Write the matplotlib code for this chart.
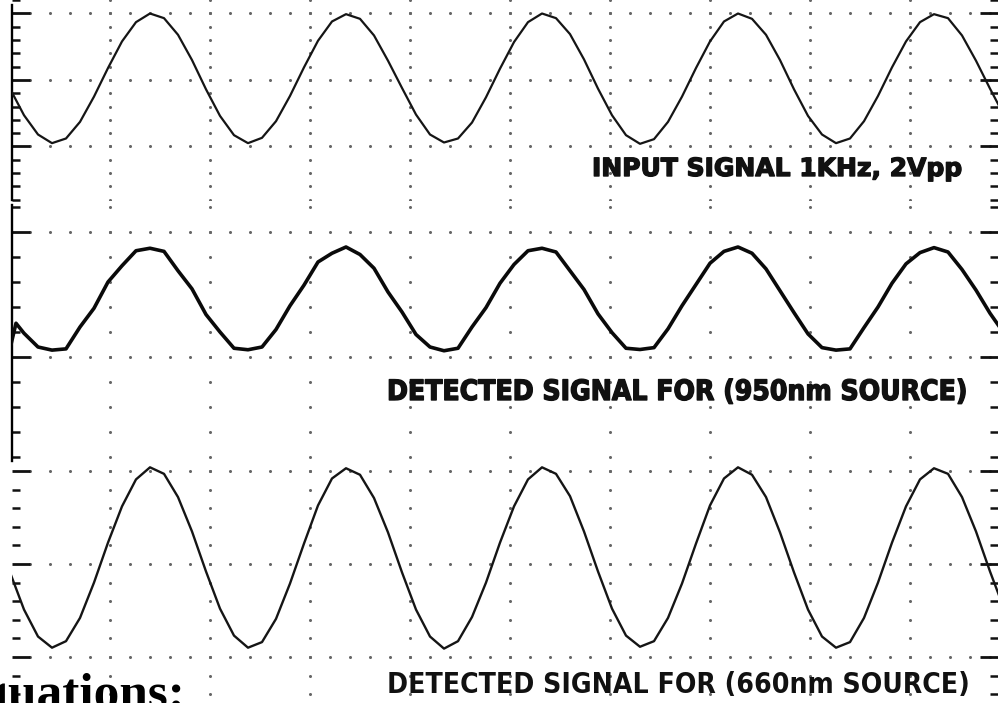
import os
import numpy as np
import matplotlib
matplotlib.use("Agg")
import matplotlib.pyplot as plt
import matplotlib.patheffects as pe
from matplotlib.ticker import MultipleLocator
from matplotlib import font_manager as fm

# --- data (time in ms, 0.5 ms/div) ---
time_ms = [0.00, 0.07, 0.14, 0.21, 0.28, 0.35, 0.42, 0.49, 0.56, 0.63, 0.70, 0.77, 0.84, 0.91,
           0.98, 1.05, 1.12, 1.19, 1.26, 1.33, 1.40, 1.47, 1.54, 1.61, 1.68, 1.75, 1.82, 1.89,
           1.96, 2.03, 2.10, 2.17, 2.24, 2.31, 2.38, 2.45, 2.52, 2.59, 2.66, 2.73, 2.80, 2.87,
           2.94, 3.01, 3.08, 3.15, 3.22, 3.29, 3.36, 3.43, 3.50, 3.57, 3.64, 3.71, 3.78, 3.85,
           3.92, 3.99, 4.06, 4.13, 4.20, 4.27, 4.34, 4.41, 4.48, 4.55, 4.62, 4.69, 4.76, 4.83,
           4.90, 4.97]

# input signal, volts (1 V/div)
input_v = [-0.13, -0.53, -0.82, -0.95, -0.88, -0.63, -0.25, 0.18, 0.58, 0.87, 1.00, 0.93, 0.68, 0.30,
           -0.14, -0.54, -0.83, -0.95, -0.87, -0.62, -0.24, 0.19, 0.59, 0.88, 0.99, 0.92, 0.67, 0.29,
           -0.12, -0.52, -0.82, -0.94, -0.88, -0.64, -0.26, 0.17, 0.57, 0.87, 1.00, 0.93, 0.69, 0.31,
           -0.13, -0.53, -0.83, -0.96, -0.89, -0.63, -0.25, 0.18, 0.58, 0.88, 1.00, 0.92, 0.68, 0.30,
           -0.14, -0.54, -0.82, -0.95, -0.88, -0.62, -0.24, 0.19, 0.58, 0.87, 0.99, 0.93, 0.67, 0.29,
           -0.13, -0.53]

# detected signal, 950 nm source (divisions)
time_950 = [0.00, 0.005, 0.03] + time_ms[1:]
det_950 = [0.59, 0.10, 0.27,
           0.19, 0.08, 0.055, 0.065, 0.24, 0.39, 0.60, 0.73, 0.85, 0.87, 0.845, 0.69, 0.545,
           0.34, 0.20, 0.07, 0.058, 0.08, 0.22, 0.41, 0.575, 0.76, 0.83, 0.88, 0.82, 0.71, 0.52,
           0.36, 0.18, 0.08, 0.05, 0.07, 0.24, 0.395, 0.59, 0.74, 0.85, 0.87, 0.84, 0.69, 0.54,
           0.345, 0.195, 0.07, 0.06, 0.075, 0.225, 0.41, 0.58, 0.75, 0.845, 0.88, 0.83, 0.705, 0.53,
           0.355, 0.185, 0.075, 0.055, 0.065, 0.235, 0.40, 0.59, 0.745, 0.835, 0.875, 0.84, 0.70, 0.535,
           0.35, 0.19]

# detected signal, 660 nm source (divisions)
det_660 = [-0.09, -0.49, -0.78, -0.90, -0.83, -0.58, -0.20, 0.23, 0.62, 0.91, 1.04, 0.97, 0.72, 0.35,
           -0.08, -0.48, -0.77, -0.90, -0.84, -0.59, -0.21, 0.22, 0.63, 0.92, 1.03, 0.96, 0.71, 0.34,
           -0.09, -0.49, -0.78, -0.91, -0.83, -0.57, -0.20, 0.23, 0.62, 0.91, 1.04, 0.97, 0.73, 0.35,
           -0.08, -0.48, -0.77, -0.89, -0.83, -0.58, -0.21, 0.22, 0.63, 0.92, 1.04, 0.96, 0.72, 0.34,
           -0.09, -0.49, -0.78, -0.90, -0.84, -0.58, -0.20, 0.23, 0.62, 0.91, 1.03, 0.97, 0.72, 0.35,
           -0.08, -0.48]

labels = ["INPUT SIGNAL 1KHz, 2Vpp",
          "DETECTED SIGNAL FOR (950nm SOURCE)",
          "DETECTED SIGNAL FOR (660nm SOURCE)"]

W, H = 998, 703
fig = plt.figure(figsize=(W / 100, H / 100), dpi=100)
fig.patch.set_facecolor('white')


def pick_condensed(cands):
    for fam, st in cands:
        try:
            path = fm.findfont(fm.FontProperties(family=fam, stretch=st, weight='bold'),
                               fallback_to_default=False)
        except ValueError:
            continue
        name = os.path.basename(path).lower()
        if 'condensed' in name or 'narrow' in name:
            return fam, st
    return 'DejaVu Sans', 'normal'


narrow = [('Liberation Sans Narrow', 'normal'), ('DejaVu Sans', 'condensed'),
          ('Roboto Condensed', 'normal'), ('Noto Sans', 'condensed'),
          ('Noto Sans Condensed', 'normal'), ('Roboto', 'condensed')]
extra_narrow = [('Noto Sans ExtraCondensed', 'normal'), ('Noto Sans', 'extra-condensed'),
                ('Open Sans Condensed', 'normal')] + narrow
fam_660, st_660 = pick_condensed(narrow)
fam_950, st_950 = pick_condensed(extra_narrow)


def px_axes(x0, y0, x1, y1):
    return fig.add_axes([x0 / W, 1 - y1 / H, (x1 - x0) / W, (y1 - y0) / H])


def setup_panel(ax, ylim, spine_top=None, spine=True):
    ax.set_xlim(0.01, 0.01 + 986 / 200)
    ax.set_ylim(*ylim)
    ax.patch.set_alpha(0)
    for s in ['top', 'bottom', 'right']:
        ax.spines[s].set_visible(False)
    ax.spines['left'].set_linewidth(1.7)
    ax.spines['left'].set_visible(spine)
    if spine_top is not None:
        ax.spines['left'].set_bounds(ylim[0], spine_top)
    ax.set_xticks([])
    ax.yaxis.set_major_locator(MultipleLocator(1))
    ax.yaxis.set_minor_locator(MultipleLocator(0.2))
    ax.tick_params(axis='y', which='both', direction='in', left=True, right=True,
                   labelleft=False, labelright=False, color='#111111')
    ax.tick_params(axis='y', which='major', length=13, width=2.0)
    ax.tick_params(axis='y', which='minor', length=5.5, width=1.8)

    # dotted graticule
    lo, hi = ylim
    xs = np.arange(0.1, 4.95, 0.1)
    for yv in np.arange(np.ceil(lo), hi, 1.0):
        ax.plot(xs, np.full_like(xs, yv), ls='none', marker='o', ms=2.2,
                mfc='#666666', mec='none', zorder=1)
    ys = np.arange(np.ceil(lo / 0.2) * 0.2, hi, 0.2)
    for xv in np.arange(0.5, 4.6, 0.5):
        ax.plot(np.full_like(ys, xv), ys, ls='none', marker='o', ms=2.2,
                mfc='#666666', mec='none', zorder=1)


# top panel: input signal
ax1 = px_axes(12, 0, W, 200)
setup_panel(ax1, (-1.805, 1.203), spine_top=1.128)
ax1.plot(time_ms, input_v, color='#151515', lw=1.6, zorder=3)

# middle panel: 950 nm
ax2 = px_axes(12, 205, W, 461)
setup_panel(ax2, (-0.832, 1.216))
ax2.plot(time_950, det_950, color='#0a0a0a', lw=2.6, zorder=3)

# bottom panel: 660 nm
ax3 = px_axes(12, 461, W, H)
setup_panel(ax3, (-1.495, 1.108), spine=False)
ax3.plot(time_ms, det_660, color='#151515', lw=1.7, zorder=3)

# labels
heavy = [pe.withStroke(linewidth=1.0, foreground='#111111')]
t_in = fig.text(592 / W, 1 - 176 / H, labels[0], fontsize=18, fontweight='heavy',
                family='DejaVu Sans', color='#111111', va='baseline', ha='left',
                path_effects=heavy)
t_950 = fig.text(387 / W, 1 - 400 / H, labels[1], fontsize=24, fontweight='bold',
                 family=fam_950, fontstretch=st_950, color='#111111',
                 va='baseline', ha='left', path_effects=heavy)
t_660 = fig.text(387 / W, 1 - 693 / H, labels[2], fontsize=18, fontweight='bold',
                 family=fam_660, fontstretch=st_660, color='#111111',
                 va='baseline', ha='left')

# size the labels so their widths match the screenshot
fig.canvas.draw()
renderer = fig.canvas.get_renderer()
for txt, target in [(t_in, 370), (t_950, 581), (t_660, 581)]:
    w = txt.get_window_extent(renderer).width
    txt.set_fontsize(txt.get_fontsize() * target / w)

# partially cut document heading at the bottom edge
fig.text(185 / W, 1 - 708 / H, "Equations:", fontsize=37, fontweight='bold',
         family='Liberation Serif', color='black', va='baseline', ha='right')

fig.savefig("out.png", dpi=100)
